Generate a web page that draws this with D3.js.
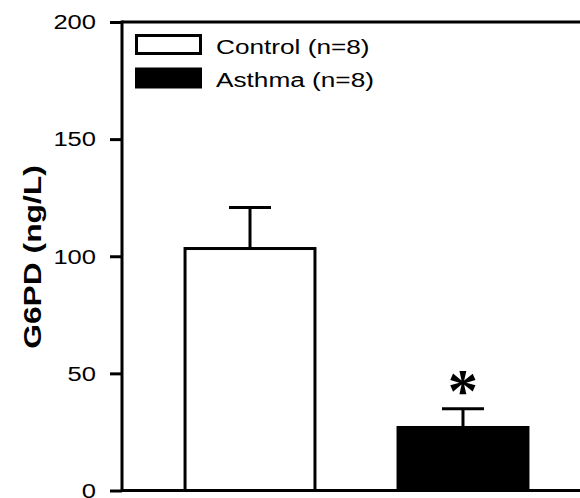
<!DOCTYPE html>
<html><head><meta charset="utf-8">
<script src="https://cdn.jsdelivr.net/npm/d3@7"></script>
<style>body{margin:0;background:#fff;overflow:hidden}</style>
</head><body>
<script>
// ---- data ----
const groups = ["Control (n=8)", "Asthma (n=8)"];
const means = [103.3, 26.9];
const sems = [17.5, 8.0];
const fills = ["#ffffff", "#000000"];
const sigMarks = ["", "*"];
const yTicks = [0, 50, 100, 150, 200];
const yLabel = "G6PD (ng/L)";

// ---- layout ----
const W = 580, H = 498;
const svg = d3.select("body").append("svg").attr("width", W).attr("height", H);
const font = "Liberation Sans, Arial, Helvetica, sans-serif";
const stretch = 1.31; // wide rendering of the original font

const y = d3.scaleLinear().domain([0, 200]).range([490.5, 22]);
const x = d3.scaleBand().domain(groups).range([122, 591])
  .paddingInner(0.39).paddingOuter(0.296);

// y axis ticks
const yAxis = d3.axisLeft(y).tickValues(yTicks).tickSize(12).tickFormat(d3.format("d"));
const gy = svg.append("g").attr("transform", "translate(122,0)").call(yAxis);
gy.select(".domain").remove();
gy.selectAll(".tick line").attr("stroke", "#000").attr("stroke-width", 3);
gy.selectAll(".tick text").remove();
gy.selectAll(".tick").append("text")
  .attr("transform", `translate(-26,0) scale(${stretch},1)`)
  .attr("text-anchor", "end").attr("dy", "0.35em")
  .attr("fill", "#000").attr("font-family", font).attr("font-size", 19.5)
  .text(d => d);

// axis frame lines
svg.append("line").attr("x1", 122).attr("x2", 122).attr("y1", y(200) - 1.5).attr("y2", y(0) + 1.5)
  .attr("stroke", "#000").attr("stroke-width", 3);
svg.append("line").attr("x1", 122).attr("x2", x.range()[1]).attr("y1", y(200)).attr("y2", y(200))
  .attr("stroke", "#000").attr("stroke-width", 3);
svg.append("line").attr("x1", 122).attr("x2", x.range()[1]).attr("y1", y(0)).attr("y2", y(0))
  .attr("stroke", "#000").attr("stroke-width", 3);

// bars
svg.selectAll("rect.bar").data(groups).join("rect").attr("class", "bar")
  .attr("x", d => x(d)).attr("width", x.bandwidth())
  .attr("y", (d, i) => y(means[i])).attr("height", (d, i) => y(0) - y(means[i]))
  .attr("fill", (d, i) => fills[i]).attr("stroke", "#000").attr("stroke-width", 3);

// error bars (upper only) and significance mark
const capW = 42;
const starFont = "Liberation Serif, Times New Roman, serif";
const ctx = document.createElement("canvas").getContext("2d");
groups.forEach((g, i) => {
  const cx = x(g) + x.bandwidth() / 2;
  const top = y(means[i] + sems[i]);
  svg.append("line").attr("x1", cx).attr("x2", cx)
    .attr("y1", y(means[i])).attr("y2", top)
    .attr("stroke", "#000").attr("stroke-width", 3);
  svg.append("line").attr("x1", cx - capW / 2).attr("x2", cx + capW / 2)
    .attr("y1", top).attr("y2", top)
    .attr("stroke", "#000").attr("stroke-width", 3);
  if (sigMarks[i]) {
    ctx.font = `bold 100px ${starFont}`;
    const m = ctx.measureText(sigMarks[i]);
    const inkH = m.actualBoundingBoxAscent + m.actualBoundingBoxDescent;
    const fs = 100 * 23 / inkH;
    const yc = top - 25.5;
    const base = yc + (m.actualBoundingBoxAscent - inkH / 2) * fs / 100;
    const inkMid = (m.actualBoundingBoxRight - m.actualBoundingBoxLeft) / 2 * fs / 100;
    svg.append("text").attr("font-family", starFont)
      .attr("font-weight", "bold").attr("font-size", fs).attr("fill", "#000")
      .attr("x", cx - inkMid).attr("y", base).text(sigMarks[i]);
  }
});

// legend
const legend = svg.append("g");
groups.forEach((g, i) => {
  const ly = 34 + i * 33.5;
  legend.append("rect").attr("x", 136.5).attr("y", ly + 1.5).attr("width", 64).attr("height", 18)
    .attr("fill", fills[i]).attr("stroke", "#000").attr("stroke-width", 3);
  legend.append("text").attr("transform", `translate(216,${ly + 19.5}) scale(${stretch},1)`)
    .attr("font-family", font).attr("font-size", 20).attr("fill", "#000").text(g);
});

// y label
svg.append("text")
  .attr("transform", `translate(41,257) rotate(-90) scale(${stretch * 0.99},1)`)
  .attr("text-anchor", "middle")
  .attr("font-family", font).attr("font-weight", "bold").attr("font-size", 24.5)
  .attr("fill", "#000").text(yLabel);
</script>
</body></html>
